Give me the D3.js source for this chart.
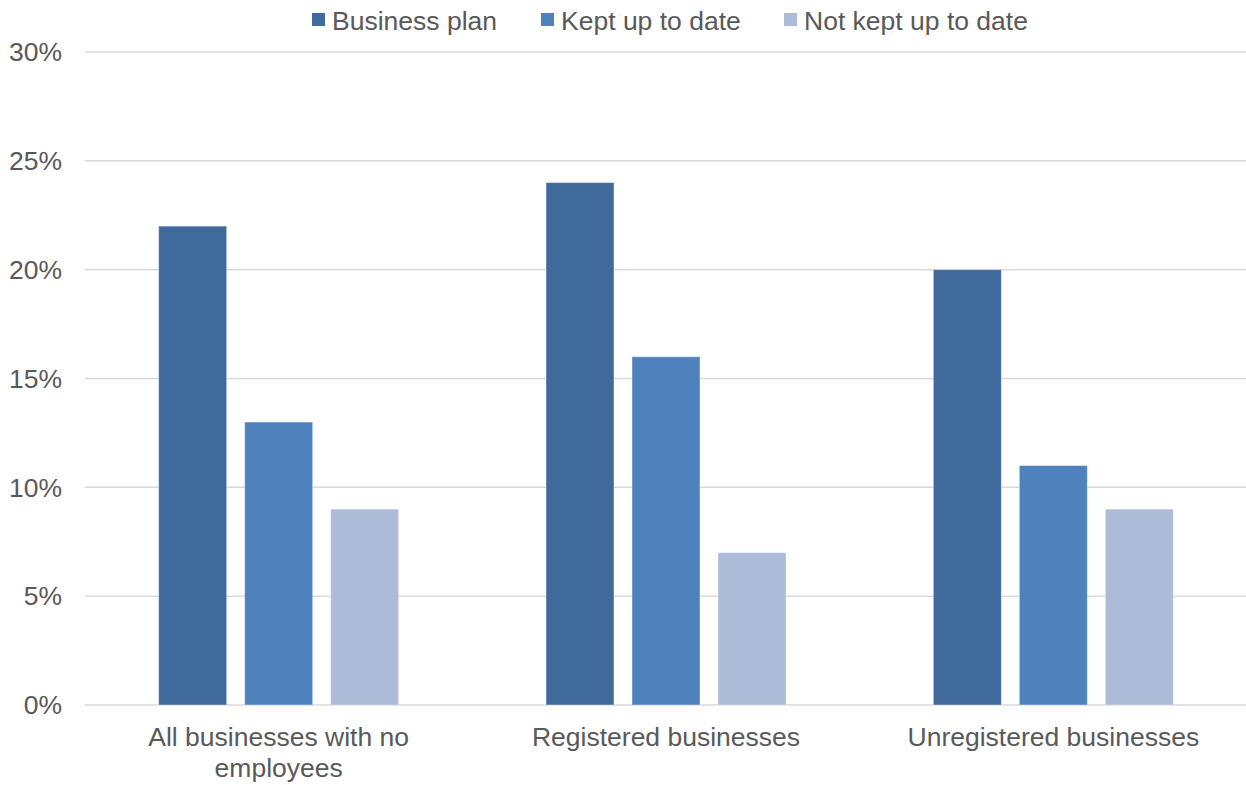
<!DOCTYPE html>
<html><head><meta charset="utf-8">
<script src="https://cdn.jsdelivr.net/npm/d3@7"></script>
<style>body{margin:0;background:#fff}svg{display:block}text{font-family:"Liberation Sans",Arial,sans-serif;fill:#595959}</style>
</head><body><svg id="c" width="1246" height="785"></svg>
<script>
const categories = [["All businesses with no","employees"],["Registered businesses"],["Unregistered businesses"]];
const seriesNames = ["Business plan","Kept up to date","Not kept up to date"];
const businessPlan = [22,24,20];
const keptUpToDate = [13,16,11];
const notKeptUpToDate = [9,7,9];
const yTicks = [0,5,10,15,20,25,30];
const colors = ["#3F6A9B","#4F81BD","#ABBBD8"];
const series = [businessPlan, keptUpToDate, notKeptUpToDate];

(function(){
const svg = d3.select("#c");
const pl = 85, pr = 1247, pt = 52, pb = 705;
const fs = 26.5;
const x = d3.scaleBand().domain(d3.range(categories.length)).range([pl,pr]);
const y = d3.scaleLinear().domain([0,30]).range([pb,pt]);
const bw = 68, gap = 18;

svg.append("g").selectAll("line").data(yTicks).join("line")
  .attr("x1",pl).attr("x2",pr).attr("y1",d=>y(d)).attr("y2",d=>y(d))
  .attr("stroke","#D9D9D9").attr("stroke-width",1.5);
svg.append("g").selectAll("text").data(yTicks).join("text")
  .attr("x",62).attr("y",d=>y(d)).attr("dy","0.35em").attr("text-anchor","end")
  .attr("font-size",fs).text(d=>d+"%");

series.forEach((s,si)=>{
  svg.append("g").selectAll("rect").data(s).join("rect")
    .attr("x",(d,i)=>x(i)+x.bandwidth()/2+(si-1)*(bw+gap)-bw/2)
    .attr("width",bw)
    .attr("y",d=>y(d)).attr("height",d=>y(0)-y(d))
    .attr("fill",colors[si]).attr("stroke","#ffffff").attr("stroke-opacity",0.4).attr("stroke-width",1);
});

categories.forEach((lines,i)=>{
  const t = svg.append("text").attr("text-anchor","middle").attr("font-size",fs);
  lines.forEach((l,j)=>t.append("tspan").attr("x",x(i)+x.bandwidth()/2).attr("y",746+j*31).text(l));
});

const legX = [312,541,784];
seriesNames.forEach((n,i)=>{
  svg.append("rect").attr("x",legX[i]).attr("y",13).attr("width",13).attr("height",13).attr("fill",colors[i]);
  svg.append("text").attr("x",legX[i]+20).attr("y",30).attr("font-size",fs).text(n);
});
})();
</script></body></html>
